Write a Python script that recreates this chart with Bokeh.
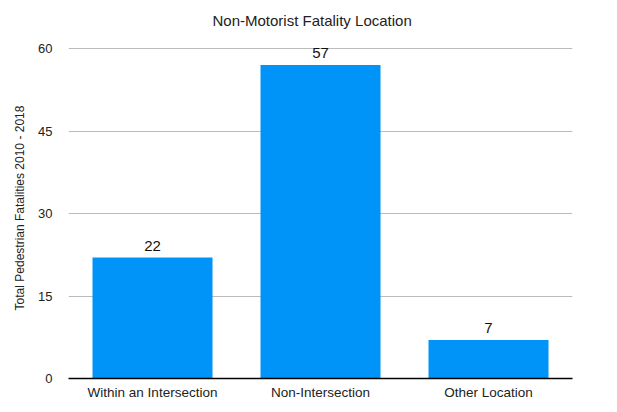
from bokeh.plotting import figure
from bokeh.models import Range1d, FactorRange, ColumnDataSource, FixedTicker, LabelSet
from bokeh.core.properties import value
from bokeh.embed import file_html
from bokeh.resources import INLINE

categories = ["Within an Intersection", "Non-Intersection", "Other Location"]
values = [22, 57, 7]
y_ticks = [0, 15, 30, 45, 60]

FONT = "Liberation Sans"
BLUE = "#0094F9"

src = ColumnDataSource(dict(cat=categories, val=values, lbl=[str(v) for v in values]))

p = figure(
    x_range=FactorRange(*categories, range_padding=0),
    y_range=Range1d(0, 62),
    frame_width=504, frame_height=341,
    min_border_left=68, min_border_right=29, min_border_top=37, min_border_bottom=18,
    output_backend="svg", toolbar_location=None,
    title="Non-Motorist Fatality Location",
)
p.outline_line_color = None
p.background_fill_color = "white"
p.border_fill_color = "white"

p.title.align = "left"
p.title.text_font = FONT
p.title.text_font_size = "15px"
p.title.text_font_style = "normal"
p.title.text_color = "#222222"
p.title.offset = 144
p.title.standoff = 18

p.vbar(x="cat", top="val", width=120 / 168, source=src, color=BLUE, line_color=None)

labels = LabelSet(x="cat", y="val", text="lbl", source=src, text_align="center",
                  text_baseline="bottom", y_offset=7, text_font=value(FONT),
                  text_font_size="15px", text_color="#111111")
p.add_layout(labels)

# y axis
p.yaxis.ticker = FixedTicker(ticks=y_ticks)
p.yaxis.axis_line_color = None
p.yaxis.major_tick_line_color = None
p.yaxis.minor_tick_line_color = None
p.yaxis.major_label_standoff = 10
p.yaxis.major_label_text_font = FONT
p.yaxis.major_label_text_font_size = "13px"
p.yaxis.major_label_text_color = "#222222"
p.yaxis.axis_label = "Total Pedestrian Fatalities 2010 - 2018"
p.yaxis.axis_label_text_font = FONT
p.yaxis.axis_label_text_font_size = "12px"
p.yaxis.axis_label_text_font_style = "normal"
p.yaxis.axis_label_text_color = "#222222"
p.yaxis.axis_label_standoff = 8

# x axis
p.xaxis.axis_line_color = "black"
p.xaxis.axis_line_width = 1.5
p.xaxis.major_tick_line_color = None
p.xaxis.minor_tick_line_color = None
p.xaxis.major_label_standoff = 0
p.xaxis.major_label_text_font = FONT
p.xaxis.major_label_text_font_size = "13.5px"
p.xaxis.major_label_text_color = "#222222"

p.xgrid.grid_line_color = None
p.ygrid.grid_line_color = "#BBBBBB"
p.ygrid.grid_line_width = 1

open("out.html", "w").write(file_html(p, INLINE))
